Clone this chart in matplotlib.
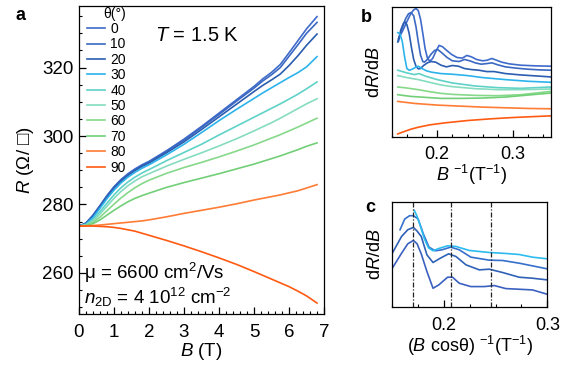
import matplotlib
matplotlib.use("Agg")
import matplotlib.pyplot as plt
from matplotlib.ticker import MultipleLocator

plt.rcParams['font.family'] = ['Liberation Sans', 'DejaVu Sans']
plt.rcParams['mathtext.fontset'] = 'custom'
plt.rcParams['mathtext.rm'] = 'Liberation Sans'
plt.rcParams['mathtext.it'] = 'Liberation Sans:italic'
plt.rcParams['mathtext.bf'] = 'Liberation Sans:bold'

# ---------------- data: panel a ----------------
angles = [0, 10, 20, 30, 40, 50, 60, 70, 80, 90]
colors = ['#3f6bcb', '#3a68c2', '#2b5db0', '#2cb3ec', '#5fd2c8', '#86dcc0',
          '#86d88a', '#72cf78', '#ff7c35', '#ff5a12']
B = [0, 0.2, 0.4, 0.6, 0.8, 1.0, 1.2, 1.4, 1.6, 1.8, 2.0, 2.5, 3.0, 3.5,
     4.0, 4.5, 5.0, 5.25, 5.5, 5.75, 6.0, 6.25, 6.5, 6.8]
R0 = [273.7, 274.6, 276.9, 279.7, 282.6, 285.2, 287.3, 289.0, 290.4, 291.6, 292.6,
      295.7, 299.1, 302.8, 306.7, 310.6, 314.5, 316.7, 318.6, 320.9, 324.3, 327.8, 331.3, 334.9]
R10 = [273.7, 274.5, 276.8, 279.6, 282.5, 285.0, 287.1, 288.8, 290.2, 291.4, 292.4,
       295.5, 298.8, 302.5, 306.3, 310.2, 314.0, 316.1, 317.9, 320.0, 323.3, 326.6, 330.0, 333.2]
R20 = [273.7, 274.4, 276.5, 279.3, 282.2, 284.7, 286.8, 288.5, 289.9, 291.1, 292.1,
       295.1, 298.3, 301.9, 305.6, 309.3, 313.0, 314.8, 316.4, 318.1, 320.6, 323.4, 326.5, 329.8]
R30 = [273.7, 274.3, 276.2, 278.9, 281.7, 284.2, 286.3, 288.0, 289.4, 290.6, 291.6,
       294.5, 297.6, 301.0, 304.5, 307.8, 311.0, 312.6, 314.1, 315.6, 317.1, 318.5, 320.2, 323.2]
R40 = [273.7, 274.1, 275.6, 277.9, 280.4, 282.8, 284.9, 286.6, 288.0, 289.2, 290.2,
       292.8, 295.2, 297.6, 300.3, 302.9, 305.5, 306.8, 308.1, 309.4, 310.8, 312.2, 313.8, 315.8]
R50 = [273.7, 274.0, 275.2, 277.2, 279.5, 281.8, 283.8, 285.5, 286.9, 288.1, 289.0,
       291.2, 293.2, 295.1, 297.1, 299.2, 301.5, 302.7, 303.9, 305.2, 306.6, 308.0, 309.4, 310.9]
R60 = [273.7, 273.9, 274.8, 276.3, 278.2, 280.1, 281.9, 283.5, 284.9, 286.1, 287.1,
       289.1, 290.8, 292.3, 293.9, 295.6, 297.4, 298.4, 299.4, 300.4, 301.5, 302.6, 303.8, 305.2]
R70 = [273.7, 273.8, 274.4, 275.5, 276.9, 278.3, 279.6, 280.8, 281.8, 282.6, 283.3,
       285.0, 286.4, 287.7, 289.0, 290.4, 291.8, 292.6, 293.4, 294.2, 295.1, 296.0, 297.0, 298.0]
R80 = [273.7, 273.75, 273.85, 274.0, 274.2, 274.4, 274.6, 274.8, 275.0, 275.2, 275.5,
       276.4, 277.4, 278.3, 279.2, 280.2, 281.3, 281.8, 282.3, 282.8, 283.4, 284.0, 284.8, 285.8]
R90 = [273.7, 273.7, 273.7, 273.6, 273.5, 273.3, 273.0, 272.6, 272.2, 271.6, 271.0,
       269.5, 267.9, 266.2, 264.4, 262.5, 260.4, 259.3, 258.2, 257.1, 256.0, 254.7, 253.3, 251.2]
R_all = [R0, R10, R20, R30, R40, R50, R60, R70, R80, R90]

# ---------------- data: panel b (dR/dB vs 1/B, arbitrary units) ----------------
b_x0 = [0.149, 0.155, 0.160, 0.165, 0.169, 0.172, 0.175, 0.178, 0.181, 0.184, 0.187, 0.190,
        0.194, 0.198, 0.2024, 0.207, 0.212, 0.219, 0.226, 0.233, 0.239, 0.245, 0.252, 0.260,
        0.266, 0.272, 0.278, 0.285, 0.295, 0.310, 0.330, 0.350]
b_y0 = [294, 320, 345, 368, 380, 384, 378, 352, 310, 265, 237, 227,
        235, 255, 274, 270, 260, 247, 238, 236, 244, 240, 232, 228,
        230, 235, 230, 224, 219, 215, 213, 212]
b_x10 = [0.149, 0.153, 0.158, 0.162, 0.1655, 0.169, 0.172, 0.175, 0.178, 0.181, 0.1831,
         0.187, 0.192, 0.1965, 0.2005, 0.206, 0.213, 0.220, 0.229, 0.236, 0.243, 0.250,
         0.258, 0.266, 0.272, 0.280, 0.290, 0.305, 0.320, 0.335, 0.350]
b_y10 = [287, 320, 352, 368, 372, 362, 330, 285, 245, 226, 224,
         232, 248, 259, 262, 252, 238, 228, 226, 232, 228, 222, 218, 220, 222,
         216, 210, 206, 203, 201, 200]
b_x20 = [0.148, 0.152, 0.1555, 0.1575, 0.160, 0.163, 0.166, 0.169, 0.172, 0.175, 0.178,
         0.182, 0.187, 0.192, 0.198, 0.205, 0.212, 0.220, 0.228, 0.236, 0.245, 0.255,
         0.265, 0.275, 0.290, 0.310, 0.330, 0.350]
b_y20 = [284, 320, 340, 344, 336, 310, 268, 232, 212, 204, 205,
         214, 222, 226, 224, 215, 210, 214, 212, 205, 202, 200, 196, 196, 190, 186, 183, 180]
b_x30 = [0.148, 0.151, 0.154, 0.157, 0.160, 0.163, 0.167, 0.171, 0.175, 0.180, 0.186,
         0.193, 0.205, 0.220, 0.240, 0.260, 0.290, 0.320, 0.350]
b_y30 = [312, 308, 285, 240, 205, 200, 203, 208, 212, 205, 198,
         194, 190, 188, 184, 178, 172, 167, 164]
b_x40 = [0.148, 0.160, 0.170, 0.176, 0.185, 0.200, 0.220, 0.250, 0.280, 0.310, 0.350]
b_y40 = [200, 192, 187, 190, 182, 172, 162, 153, 148, 146, 150]
b_x50 = [0.148, 0.160, 0.175, 0.190, 0.205, 0.220, 0.250, 0.280, 0.310, 0.350]
b_y50 = [184, 178, 172, 164, 156, 151, 145, 142, 142, 144]
b_x60 = [0.148, 0.160, 0.175, 0.190, 0.205, 0.220, 0.250, 0.280, 0.310, 0.350]
b_y60 = [150, 147, 142, 136, 131, 128, 125, 124, 127, 137]
b_x70 = [0.148, 0.165, 0.185, 0.205, 0.230, 0.260, 0.290, 0.320, 0.350]
b_y70 = [127, 122, 119, 116, 116, 117, 120, 126, 132]
b_x80 = [0.148, 0.170, 0.200, 0.230, 0.260, 0.290, 0.320, 0.350]
b_y80 = [107, 101, 96, 93, 90, 88, 86, 85]
b_x90 = [0.148, 0.155, 0.165, 0.175, 0.190, 0.210, 0.240, 0.270, 0.300, 0.330, 0.350]
b_y90 = [10, 16, 24, 30, 37, 43, 50, 55, 59, 62, 64]
b_x = [b_x0, b_x10, b_x20, b_x30, b_x40, b_x50, b_x60, b_x70, b_x80, b_x90]
b_y = [b_y0, b_y10, b_y20, b_y30, b_y40, b_y50, b_y60, b_y70, b_y80, b_y90]

# ---------------- data: panel c (dR/dB vs 1/(B cos theta)) ----------------
c_colors = ['#3a60c0', '#2f62b6', '#3470cc', '#2dbbef']
c_x1 = [0.150, 0.159, 0.165, 0.1704, 0.174, 0.178, 0.1835, 0.1894, 0.195, 0.2035, 0.2083,
        0.2148, 0.226, 0.239, 0.2488, 0.2598, 0.2727, 0.2856, 0.300]
c_y1 = [117, 162, 190, 200, 190, 160, 107, 57, 67, 90, 90,
        72, 62, 62, 65, 56, 54, 52, 39]
c_x2 = [0.150, 0.159, 0.165, 0.1704, 0.174, 0.178, 0.1835, 0.1894, 0.1965, 0.2045, 0.2116,
        0.2213, 0.2342, 0.2439, 0.2568, 0.2727, 0.2856, 0.300]
c_y2 = [162, 212, 232, 239, 228, 212, 157, 134, 147, 160, 152,
        127, 112, 114, 104, 90, 87, 82]
c_x3 = [0.1575, 0.162, 0.1667, 0.1705, 0.175, 0.180, 0.1855, 0.1915, 0.198, 0.2065,
        0.2148, 0.226, 0.2439, 0.2568, 0.2727, 0.2856, 0.300]
c_y3 = [232, 264, 274, 274, 264, 220, 180, 169, 172, 180, 172,
        150, 141, 140, 132, 124, 115]
c_x4 = [0.1713, 0.174, 0.177, 0.181, 0.185, 0.1894, 0.195, 0.2035, 0.2116, 0.2245, 0.2439,
        0.2598, 0.2727, 0.2856, 0.300]
c_y4 = [290, 272, 245, 205, 178, 169, 176, 184, 182, 170, 164, 161, 158, 150, 145]
c_x = [c_x1, c_x2, c_x3, c_x4]
c_y = [c_y1, c_y2, c_y3, c_y4]
c_dash = [0.1704, 0.2068, 0.2455]

# ---------------- figure ----------------
fig = plt.figure(figsize=(5.66, 3.65), dpi=100)

# panel a
ax = fig.add_axes([79/566, 1 - 314/365, 245/566, 308/365])
for ang, col, R in zip(angles, colors, R_all):
    ax.plot(B, R, color=col, lw=1.2, label=str(ang))
ax.set_xlim(0, 7)
ax.set_ylim(248, 338)
ax.xaxis.set_major_locator(MultipleLocator(1))
ax.xaxis.set_minor_locator(MultipleLocator(0.2))
ax.yaxis.set_major_locator(MultipleLocator(20))
ax.yaxis.set_minor_locator(MultipleLocator(5))
ax.tick_params(which='both', direction='in', top=False, right=False, labelsize=13.5)
ax.tick_params(axis='x', which='both', pad=7)
ax.tick_params(axis='y', which='both', pad=4)
ax.tick_params(which='major', length=5, width=0.9)
ax.tick_params(which='minor', length=2.5, width=0.8)
for s in ax.spines.values():
    s.set_linewidth(0.9)
ax.set_xlabel(r'$B$ (T)', fontsize=13.5, labelpad=0)
ax.set_ylabel(r'$R$ (Ω/ □)', fontsize=13.5, labelpad=4)
leg = ax.legend(loc='upper left', bbox_to_anchor=(0.0, 1.025), frameon=False,
                fontsize=10, title='θ(°)', title_fontsize=10, handlelength=1.25,
                handletextpad=0.4, labelspacing=0.1, borderaxespad=0.2,
                alignment='right')
ax.text(0.31, 0.905, r'$T$ = 1.5 K', transform=ax.transAxes, fontsize=14.5,
        ha='left', va='center')
ax.text(0.02, 0.133, r'μ = 6600 cm$^{2}$/Vs', transform=ax.transAxes, fontsize=13.5,
        ha='left', va='center')
ax.text(0.02, 0.055, r'$n_{\mathrm{2D}}$ = 4 10$^{12}$ cm$^{-2}$', transform=ax.transAxes,
        fontsize=13.5, ha='left', va='center')
fig.text(20/566, 1 - 16/365, 'a', fontsize=13, fontweight='bold', ha='center', va='center')

# panel b
axb = fig.add_axes([391.7/566, 1 - 137.3/365, 159.3/566, 130.8/365])
for col, xs, ys in zip(colors, b_x, b_y):
    axb.plot(xs, ys, color=col, lw=1.2)
axb.set_xlim(0.14, 0.35)
axb.set_ylim(0, 390)
axb.set_yticks([])
axb.xaxis.set_major_locator(MultipleLocator(0.1))
axb.xaxis.set_minor_locator(MultipleLocator(0.02))
axb.xaxis.set_major_formatter(matplotlib.ticker.FormatStrFormatter('%.1f'))
axb.tick_params(which='both', direction='in', top=False, right=False, labelsize=13)
axb.tick_params(axis='x', which='both', pad=6)
axb.tick_params(which='major', length=5, width=0.9)
axb.tick_params(which='minor', length=2.5, width=0.8)
for s in axb.spines.values():
    s.set_linewidth(0.9)
axb.set_xlabel(r'$B$ $^{-1}$(T$^{-1}$)', fontsize=13, labelpad=0)
axb.set_ylabel(r'd$R$/d$B$', fontsize=13, labelpad=6)
fig.text(366.7/566, 1 - 18/365, 'b', fontsize=13, fontweight='bold', ha='center', va='center')

# panel c
axc = fig.add_axes([392.3/566, 1 - 307.3/365, 155/566, 105.3/365])
for col, xs, ys in zip(c_colors, c_x, c_y):
    axc.plot(xs, ys, color=col, lw=1.2)
for xd in c_dash:
    axc.axvline(xd, color='#222222', lw=0.9, ls='-.', dashes=(4, 1.5, 1, 1.5))
axc.set_xlim(0.15, 0.30)
axc.set_ylim(0, 315)
axc.set_yticks([])
axc.xaxis.set_major_locator(MultipleLocator(0.1))
axc.xaxis.set_minor_locator(MultipleLocator(0.025))
axc.xaxis.set_major_formatter(matplotlib.ticker.FormatStrFormatter('%.1f'))
axc.tick_params(which='both', direction='in', top=False, right=False, labelsize=13)
axc.tick_params(axis='x', which='both', pad=7)
axc.tick_params(which='major', length=5, width=0.9)
axc.tick_params(which='minor', length=2.5, width=0.8)
for s in axc.spines.values():
    s.set_linewidth(0.9)
axc.set_xlabel(r'($B$ cosθ) $^{-1}$(T$^{-1}$)', fontsize=13, labelpad=0)
axc.set_ylabel(r'd$R$/d$B$', fontsize=13, labelpad=6)
fig.text(370.7/566, 1 - 207.3/365, 'c', fontsize=13, fontweight='bold', ha='center', va='center')

fig.savefig('out.png', dpi=100)
